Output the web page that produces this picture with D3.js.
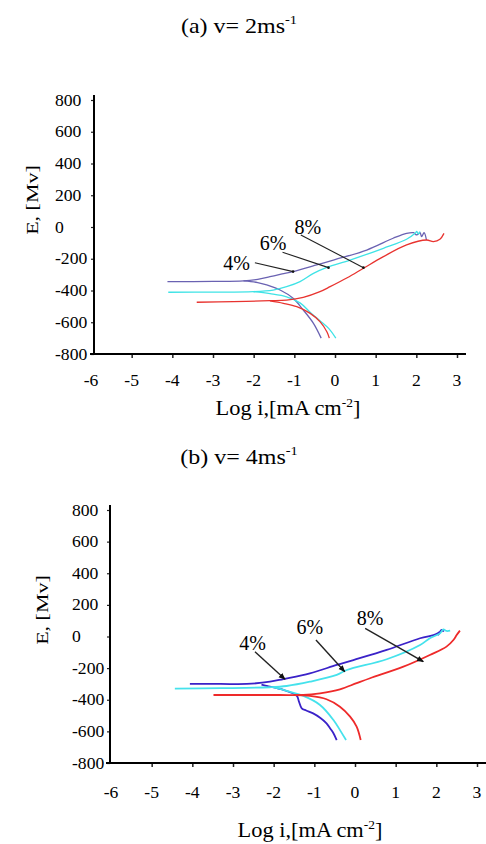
<!DOCTYPE html>
<html><head><meta charset="utf-8">
<script src="https://cdn.jsdelivr.net/npm/d3@7"></script>
<style>body{margin:0;background:#fff}svg{display:block}</style>
</head><body><svg id="c" width="486" height="844"></svg>
<script>
// ---------- data ----------
const xTicks = [-6, -5, -4, -3, -2, -1, 0, 1, 2, 3];
const yTicks = [-800, -600, -400, -200, 0, 200, 400, 600, 800];
const seriesNames = ["4%", "6%", "8%"];

// panel (a) v = 2 m/s : [log i, E]
const a4Anodic = [[-4.12,-344],[-3.0,-343],[-2.25,-340],[-1.9,-330],[-1.6,-313],[-1.3,-296],[-1.03,-281],[-0.45,-239],[-0.04,-208],[0.78,-145],[1.43,-71],[1.76,-40],[1.93,-36],[2.01,-50],[2.09,-36],[2.13,-61],[2.19,-36],[2.25,-82]];
const a4Cathodic = [[-2.25,-340],[-1.9,-350],[-1.68,-365],[-1.35,-397],[-1.03,-449],[-0.78,-523],[-0.53,-607],[-0.34,-700]];
const a6Anodic = [[-4.1,-411],[-3.0,-410],[-2.01,-407],[-1.52,-397],[-1.19,-376],[-0.86,-344],[-0.53,-292],[-0.2,-254],[0.37,-208],[1.19,-134],[1.76,-77],[1.97,-40],[2.01,-28],[2.05,-45],[2.09,-28]];
const a6Cathodic = [[-2.01,-407],[-1.6,-420],[-1.19,-440],[-0.86,-478],[-0.6,-540],[-0.37,-590],[-0.15,-640],[0.02,-700]];
const a8Anodic = [[-3.4,-474],[-2.5,-470],[-1.6,-464],[-1.19,-460],[-0.78,-443],[-0.37,-407],[-0.12,-376],[0.3,-320],[0.7,-260],[1.19,-187],[1.76,-113],[2.25,-82],[2.42,-92],[2.58,-77],[2.68,-40]];
const a8Cathodic = [[-1.6,-466],[-1.27,-481],[-0.94,-502],[-0.61,-544],[-0.37,-596],[-0.2,-660],[-0.14,-700]];
// label, text x, text y, line start x, y, line end x, y
const aAnnot = [["4%",-2.42,-225,-1.97,-225,-1.03,-281],["6%",-1.52,-101,-1.29,-159,-0.16,-256],["8%",-0.67,2,-0.84,-50,0.70,-256]];

// panel (b) v = 4 m/s
const b4Anodic = [[-4.06,-300],[-3.3,-300],[-2.66,-300],[-2.09,-286],[-1.76,-269],[-1.11,-233],[-0.45,-180],[-0.04,-149],[0.78,-85],[1.6,-11],[1.93,9],[2.02,18],[2.09,30],[2.05,12],[2.13,42],[2.18,30]];
const b4Cathodic = [[-2.3,-305],[-2.17,-313],[-1.76,-338],[-1.43,-376],[-1.38,-410],[-1.31,-454],[-1.2,-468],[-1.03,-486],[-0.85,-515],[-0.70,-549],[-0.6,-585],[-0.53,-612],[-0.45,-655]];
const b6Anodic = [[-4.43,-330],[-3.3,-327],[-2.09,-321],[-1.68,-313],[-1.11,-286],[-0.45,-243],[-0.2,-212],[0.78,-144],[1.6,-54],[1.84,-11],[2.09,20],[2.17,45],[2.25,35],[2.34,37]];
const b6Cathodic = [[-2.0,-322],[-1.76,-338],[-1.27,-376],[-0.86,-433],[-0.53,-528],[-0.35,-600],[-0.22,-655]];
const b8Anodic = [[-3.48,-370],[-2.5,-370],[-1.84,-370],[-1.27,-370],[-0.86,-359],[-0.37,-334],[0.04,-295],[0.37,-264],[1.19,-191],[1.84,-117],[2.25,-64],[2.42,-22],[2.5,9],[2.58,37]];
const b8Cathodic = [[-1.5,-371],[-1.11,-376],[-0.7,-397],[-0.37,-444],[-0.12,-507],[0.04,-570],[0.14,-655]];
const bAnnot = [["4%",-2.52,-43,-2.46,-96,-1.72,-271],["6%",-1.11,60,-0.96,-22,-0.25,-223],["8%",0.37,115,0.25,52,1.68,-159]];

// ---------- drawing ----------
const svg = d3.select("#c");
const FONT = "'Liberation Serif','Times New Roman',serif";
const defs = svg.append("defs");
defs.append("marker").attr("id","arr").attr("viewBox","0 0 10 10").attr("refX",9).attr("refY",5)
  .attr("markerWidth",5).attr("markerHeight",5).attr("orient","auto")
  .append("path").attr("d","M0,1 L10,5 L0,9 Z").attr("fill","#111");
defs.append("marker").attr("id","dot").attr("viewBox","0 0 10 10").attr("refX",5).attr("refY",5)
  .attr("markerWidth",3).attr("markerHeight",3)
  .append("circle").attr("cx",5).attr("cy",5).attr("r",4).attr("fill","#111");

function txt(g, s, px, py, size, sx, anchor) {
  return g.append("text").attr("transform", `translate(${px},${py}) scale(${sx},1)`)
    .attr("font-family", FONT).attr("font-size", size).attr("text-anchor", anchor)
    .attr("fill", "#000").text(s);
}

function panel(cfg, series, annot) {
  const x = d3.scaleLinear().domain([-6, 3]).range([cfg.x0, cfg.x1]);
  const y = d3.scaleLinear().domain([-800, 800]).range([cfg.yBot, cfg.yTop]);
  const g = svg.append("g");

  // title
  const t = txt(g, cfg.title, cfg.titleX, cfg.titleY, 20, 1.2, "middle");
  t.append("tspan").attr("font-size", 12).attr("dy", -9).text("-1");

  // axes tick marks via d3 axes
  const xa = g.append("g").attr("transform", `translate(0,${y(-800)})`)
    .call(d3.axisBottom(x).tickValues(xTicks.slice(1)).tickSize(4).tickFormat(""));
  xa.select(".domain").remove();
  xa.selectAll("line").attr("stroke", "#222").attr("stroke-width", 1.5);
  const ya = g.append("g").attr("transform", `translate(${cfg.axisX},0)`)
    .call(d3.axisLeft(y).tickValues(yTicks).tickSize(3).tickFormat(""));
  ya.select(".domain").remove();
  ya.selectAll("line").attr("stroke", "#222").attr("stroke-width", 1.2);

  // axis lines
  g.append("line").attr("x1", cfg.axisX).attr("x2", cfg.axisX).attr("y1", cfg.yAxisTop).attr("y2", y(-800) + 1)
    .attr("stroke", "#000").attr("stroke-width", 2);
  g.append("line").attr("x1", cfg.axisX - 4).attr("x2", cfg.xLineEnd).attr("y1", y(-800)).attr("y2", y(-800))
    .attr("stroke", "#000").attr("stroke-width", 2);

  // tick labels
  xTicks.forEach(v => txt(g, String(v), x(v), cfg.xTickY, 16, 1.1, "middle"));
  yTicks.forEach(v => txt(g, String(v), cfg.yLabelX, y(v), 16, 1.1, "start").attr("dy", "0.35em"));

  // axis titles
  const xt = txt(g, "Log i,[mA cm", cfg.xTitleX, cfg.xTitleY, 20, 1.12, "middle");
  xt.append("tspan").attr("font-size", 12).attr("dy", -8).text("-2");
  xt.append("tspan").attr("dy", 8).text("]");
  g.append("text").attr("transform", `translate(${cfg.yTitleX},${cfg.yTitleY}) rotate(-90) scale(1,0.78)`)
    .attr("font-family", FONT).attr("font-size", 22).attr("text-anchor", "middle").text("E, [Mv]");

  // curves
  const line = d3.line().x(d => x(d[0])).y(d => y(d[1])).curve(d3.curveCatmullRom.alpha(0.5));
  series.forEach(s => {
    [s.anodic, s.cathodic].forEach(arr => {
      g.append("path").attr("d", line(arr)).attr("fill", "none")
        .attr("stroke", s.color).attr("stroke-width", cfg.lw).attr("stroke-linejoin", "round");
    });
  });

  // annotations
  annot.forEach(a => {
    txt(g, a[0], x(a[1]), y(a[2]), 20, 1.0, "middle").attr("dy", "0.35em");
    g.append("line").attr("x1", x(a[3])).attr("y1", y(a[4])).attr("x2", x(a[5])).attr("y2", y(a[6]))
      .attr("stroke", "#222").attr("stroke-width", cfg.alw).attr("marker-end", `url(#${cfg.marker})`);
  });
}

panel({title: "(a) v= 2ms", titleX: 239, titleY: 33, x0: 91, x1: 457, yTop: 100, yBot: 354,
  axisX: 94, yAxisTop: 95, xLineEnd: 466, xTickY: 386, yLabelX: 55,
  xTitleX: 288, xTitleY: 415, yTitleX: 38, yTitleY: 200, lw: 1.3, alw: 1.1, marker: "dot"},
  [{name: seriesNames[0], color: "#6a62b2", anodic: a4Anodic, cathodic: a4Cathodic},
   {name: seriesNames[1], color: "#3fe3e6", anodic: a6Anodic, cathodic: a6Cathodic},
   {name: seriesNames[2], color: "#e8332f", anodic: a8Anodic, cathodic: a8Cathodic}], aAnnot);

panel({title: "(b) v= 4ms", titleX: 239, titleY: 464, x0: 111, x1: 477, yTop: 510, yBot: 763,
  axisX: 110, yAxisTop: 505, xLineEnd: 486, xTickY: 798, yLabelX: 72,
  xTitleX: 310, xTitleY: 837, yTitleX: 48, yTitleY: 610, lw: 1.8, alw: 1.4, marker: "arr"},
  [{name: seriesNames[0], color: "#3a22c8", anodic: b4Anodic, cathodic: b4Cathodic},
   {name: seriesNames[1], color: "#45e2ec", anodic: b6Anodic, cathodic: b6Cathodic},
   {name: seriesNames[2], color: "#ee2a2a", anodic: b8Anodic, cathodic: b8Cathodic}], bAnnot);
</script></body></html>
